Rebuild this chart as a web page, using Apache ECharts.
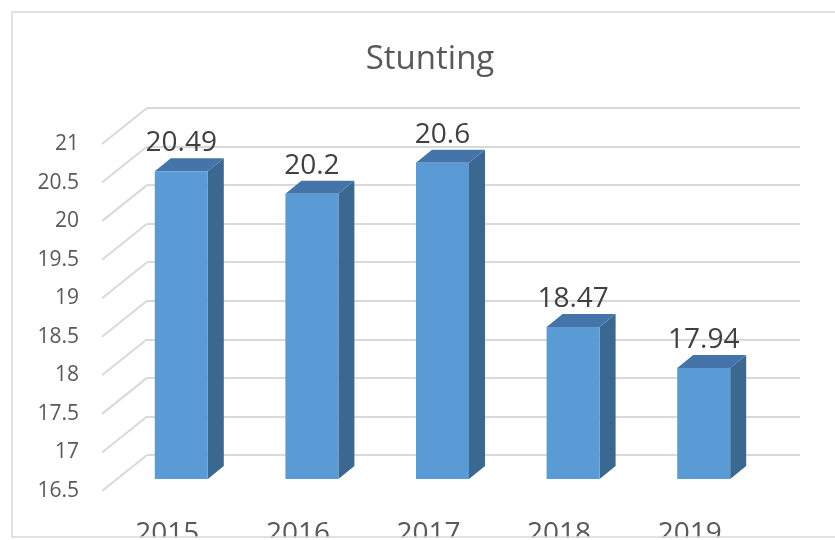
<!DOCTYPE html>
<html>
<head>
<meta charset="utf-8">
<script src="https://cdn.jsdelivr.net/npm/echarts@6/dist/echarts.min.js"></script>
<style>
html,body{margin:0;padding:0;background:#fff;}
#chart{width:835px;height:540px;}
</style>
</head>
<body>
<div id="chart"></div>
<script>
const categories = ['2015', '2016', '2017', '2018', '2019'];
const stunting = [20.49, 20.2, 20.6, 18.47, 17.94];
const yTickValues = [16.5, 17, 17.5, 18, 18.5, 19, 19.5, 20, 20.5, 21];
const yMin = 16.5, yMax = 21, yStep = 0.5;

const FONT = 'Open Sans';
const GRID_COLOR = '#d9d9d9';
const TEXT_COLOR = '#595959';
// perspective offsets (pixels)
const WALL_DX = 45, WALL_DY = 36;   // front label plane vs back wall
const BAR_DX = 31, BAR_DY = 24;     // bar front face vs back wall
const DEPTH_DX = 16, DEPTH_DY = -13; // bar depth
const BAR_HALF = 26.5;

const chart = echarts.init(document.getElementById('chart'));

chart.setOption({
  animation: false,
  backgroundColor: '#ffffff',
  title: {
    text: 'Stunting',
    left: 425,
    textAlign: 'center',
    top: 38,
    textStyle: { fontFamily: FONT, fontSize: 33, fontWeight: 'normal', color: TEXT_COLOR }
  },
  graphic: [
    {
      type: 'rect',
      shape: { x: 0, y: 537.5, width: 835, height: 10 },
      style: { fill: '#ffffff' },
      silent: true, z: 50
    },
    {
      type: 'rect',
      shape: { x: 12, y: 12, width: 900, height: 525 },
      style: { fill: 'none', stroke: GRID_COLOR, lineWidth: 1.5 },
      silent: true, z: 51
    }
  ],
  grid: [
    { left: 147, right: 35, top: 108, bottom: 85, containLabel: false, outerBoundsMode: 'none' },
    { left: 147 - WALL_DX, right: 35 + WALL_DX, top: 108 + WALL_DY, bottom: 85 - WALL_DY,
      containLabel: false, outerBoundsMode: 'none' }
  ],
  xAxis: [
    { gridIndex: 0, type: 'category', data: categories,
      axisLine: { show: false }, axisTick: { show: false }, axisLabel: { show: false }, splitLine: { show: false } },
    { gridIndex: 1, type: 'category', data: categories,
      axisLine: { show: false }, axisTick: { show: false }, splitLine: { show: false },
      axisLabel: { show: true, margin: 43, verticalAlign: 'middle', fontFamily: FONT, fontSize: 28, color: TEXT_COLOR } }
  ],
  yAxis: [
    { gridIndex: 0, type: 'value', min: yMin, max: yMax, interval: yStep,
      axisLine: { show: false }, axisTick: { show: false }, axisLabel: { show: false },
      splitLine: { show: true, lineStyle: { color: GRID_COLOR, width: 2 } } },
    { gridIndex: 1, type: 'value', min: yMin, max: yMax, interval: yStep,
      axisLine: { show: false }, axisTick: { show: false }, splitLine: { show: false },
      axisLabel: { show: true, margin: 23, fontFamily: FONT, fontSize: 21, color: TEXT_COLOR,
        formatter: function (v) { return String(v); } } }
  ],
  series: [
    {
      type: 'custom',
      name: 'sideLines',
      xAxisIndex: 0, yAxisIndex: 0,
      silent: true,
      z: 1,
      data: yTickValues.map(function (v) { return [0, v]; }),
      renderItem: function (params, api) {
        const p = api.coord([api.value(0), api.value(1)]);
        const x0 = params.coordSys.x;
        return {
          type: 'line',
          shape: { x1: x0 - WALL_DX, y1: p[1] + WALL_DY, x2: x0, y2: p[1] },
          style: { stroke: GRID_COLOR, lineWidth: 2 }
        };
      }
    },
    {
      type: 'custom',
      name: 'Stunting',
      xAxisIndex: 0, yAxisIndex: 0,
      z: 5,
      data: stunting.map(function (v, i) { return [i, v]; }),
      renderItem: function (params, api) {
        const i = api.value(0), v = api.value(1);
        const top = api.coord([i, v]);
        const base = api.coord([i, yMin]);
        const cx = top[0] - BAR_DX;
        const yT = top[1] + BAR_DY;
        const yB = base[1] + BAR_DY;
        const x0 = cx - BAR_HALF, x1 = cx + BAR_HALF;
        return {
          type: 'group',
          children: [
            { type: 'polygon',
              shape: { points: [[x1, yT], [x1 + DEPTH_DX, yT + DEPTH_DY], [x1 + DEPTH_DX, yB + DEPTH_DY], [x1, yB]] },
              style: { fill: '#3b6891' } },
            { type: 'polygon',
              shape: { points: [[x0, yT], [x1, yT], [x1 + DEPTH_DX, yT + DEPTH_DY], [x0 + DEPTH_DX, yT + DEPTH_DY]] },
              style: { fill: '#4574ab' } },
            { type: 'rect',
              shape: { x: x0, y: yT, width: x1 - x0, height: yB - yT },
              style: { fill: '#5b9bd5' } },
            { type: 'text',
              x: cx, y: yT - 28,
              style: { text: String(v), fontFamily: FONT, fontSize: 28, fill: '#404040',
                align: 'center', verticalAlign: 'middle' } }
          ]
        };
      }
    }
  ]
});
</script>
</body>
</html>
